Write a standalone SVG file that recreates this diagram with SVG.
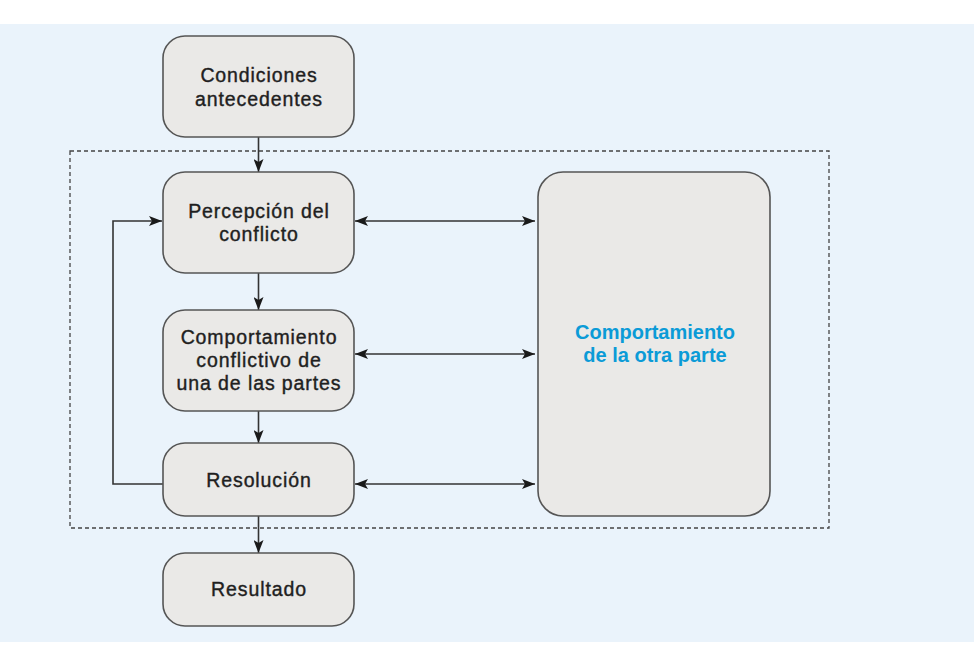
<svg xmlns="http://www.w3.org/2000/svg" width="974" height="670" viewBox="0 0 974 670">
<style>
.node{fill:#eae9e7;stroke:#555;stroke-width:1.6}
.t{font-family:"Liberation Sans",Arial,sans-serif;font-size:19.5px;fill:#1f1f1f;stroke:#1f1f1f;stroke-width:0.4;text-anchor:middle;letter-spacing:0.9px}
.b{font-family:"Liberation Sans",Arial,sans-serif;font-size:20px;font-weight:bold;fill:#0b9bd7;text-anchor:middle}
.c{fill:none;stroke:#333;stroke-width:1.6}
</style>
<defs>
<marker id="ah" viewBox="0 0 13 10" refX="13" refY="5" markerWidth="13" markerHeight="10" markerUnits="userSpaceOnUse" orient="auto-start-reverse">
<path d="M0,0 L13,5 L0,10 L3,5 Z" fill="#1a1a1a"/>
</marker>
</defs>
<rect x="0" y="0" width="974" height="670" fill="#ffffff"/>
<rect x="0" y="24" width="974" height="618" fill="#eaf3fb"/>
<rect id="scope" x="70" y="151" width="759" height="377" fill="none" stroke="#444" stroke-width="1.3" stroke-dasharray="4 3"/>
<g id="connectors">
<line class="c" x1="258.5" y1="137" x2="258.5" y2="172" marker-end="url(#ah)"/>
<line class="c" x1="258.5" y1="273" x2="258.5" y2="310" marker-end="url(#ah)"/>
<line class="c" x1="258.5" y1="411" x2="258.5" y2="443" marker-end="url(#ah)"/>
<line class="c" x1="258.5" y1="516" x2="258.5" y2="553" marker-end="url(#ah)"/>
<line class="c" x1="355" y1="221" x2="535" y2="221" marker-start="url(#ah)" marker-end="url(#ah)"/>
<line class="c" x1="355" y1="354" x2="535" y2="354" marker-start="url(#ah)" marker-end="url(#ah)"/>
<line class="c" x1="355" y1="484" x2="535" y2="484" marker-start="url(#ah)" marker-end="url(#ah)"/>
<polyline class="c" points="163,484 113,484 113,221 162,221" marker-end="url(#ah)"/>
</g>
<g id="n-condiciones">
<rect class="node" x="163" y="36" width="191" height="101" rx="22"/>
<text class="t" x="259" y="82">Condiciones</text>
<text class="t" x="259" y="105.5">antecedentes</text>
</g>
<g id="n-percepcion">
<rect class="node" x="163" y="172" width="191" height="101" rx="22"/>
<text class="t" x="259" y="218">Percepción del</text>
<text class="t" x="259" y="241">conflicto</text>
</g>
<g id="n-comportamiento">
<rect class="node" x="163" y="310" width="191" height="101" rx="22"/>
<text class="t" x="259" y="344">Comportamiento</text>
<text class="t" x="259" y="367">conflictivo de</text>
<text class="t" x="259" y="390">una de las partes</text>
</g>
<g id="n-resolucion">
<rect class="node" x="163" y="443" width="191" height="73" rx="22"/>
<text class="t" x="259" y="487">Resolución</text>
</g>
<g id="n-resultado">
<rect class="node" x="163" y="553" width="191" height="73" rx="22"/>
<text class="t" x="259" y="596">Resultado</text>
</g>
<g id="n-otra">
<rect class="node" x="538" y="172" width="232" height="344" rx="25"/>
<text class="b" x="655" y="339">Comportamiento</text>
<text class="b" x="655" y="362">de la otra parte</text>
</g>
</svg>
